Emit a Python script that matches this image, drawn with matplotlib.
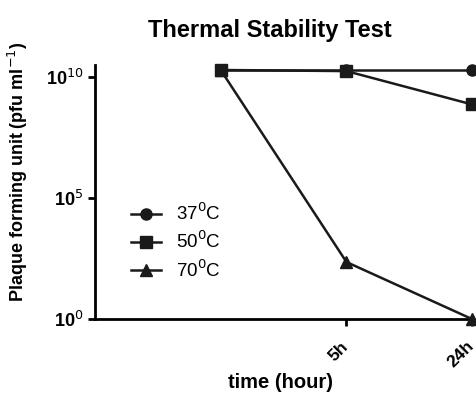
import matplotlib
matplotlib.use("Agg")
import matplotlib.pyplot as plt
import matplotlib.transforms as mtrans

plt.rcParams['font.family'] = ['Liberation Sans', 'DejaVu Sans']

x_pos = [1, 2, 3]
tick_labels = ['5h', '24h']
s37 = [2.0e10, 2.0e10, 2.0e10]
s50 = [2.0e10, 1.8e10, 7.5e8]
s70 = [2.0e10, 2.3e2, 1.0e0]
labels = ['37$^0$C', '50$^0$C', '70$^0$C']

fig = plt.figure(figsize=(4.77, 3.95), dpi=100)
ax = fig.add_axes([0.199, 0.192, 0.791, 0.643])

ax.plot(x_pos, s37, '-o', color='#1a1a1a', lw=1.8, ms=8, label=labels[0], clip_on=False, zorder=3)
ax.plot(x_pos, s50, '-s', color='#1a1a1a', lw=1.8, ms=8, label=labels[1], clip_on=False, zorder=4)
ax.plot(x_pos, s70, '-^', color='#1a1a1a', lw=1.8, ms=8, label=labels[2], clip_on=False, zorder=5)

ax.set_yscale('log')
ax.set_ylim(1, 10**10.5)
ax.set_yticks([1, 1e5, 1e10])
ax.set_yticklabels(['10$^0$', '10$^5$', '10$^{10}$'])
ax.yaxis.set_minor_locator(matplotlib.ticker.NullLocator())
ax.set_xlim(0, 3)
ax.set_xticks([2, 3])
ax.set_xticklabels(tick_labels, rotation=45, ha='right', va='top', rotation_mode='anchor')

for s in ['top', 'right']:
    ax.spines[s].set_visible(False)
for s in ['left', 'bottom']:
    ax.spines[s].set_linewidth(2)
ax.tick_params(width=2, length=5, labelsize=13, direction='out')
ax.tick_params(axis='x', pad=9, labelsize=12.5)
for t in ax.get_xticklabels() + ax.get_yticklabels():
    t.set_fontweight('bold')
off = mtrans.ScaledTranslation(-6/100, 0, fig.dpi_scale_trans)
for t in ax.get_xticklabels():
    t.set_transform(t.get_transform() + off)

fig.text(270/477, 1 - 30/395, 'Thermal Stability Test', fontsize=17, fontweight='bold',
         ha='center', va='center')
fig.text(18/477, 1 - 172/395, 'Plaque forming unit (pfu ml$^{-1}$)', fontsize=13,
         fontweight='bold', rotation=90, ha='center', va='center')
fig.text(281/477, 1 - 383/395, 'time (hour)', fontsize=14.5, fontweight='bold',
         ha='center', va='center')

ax.legend(loc='upper left', bbox_to_anchor=(0.05, 0.525), frameon=False,
          fontsize=13.5, handlelength=1.6, labelspacing=0.36, handletextpad=0.8)

fig.savefig('out.png', dpi=100)
